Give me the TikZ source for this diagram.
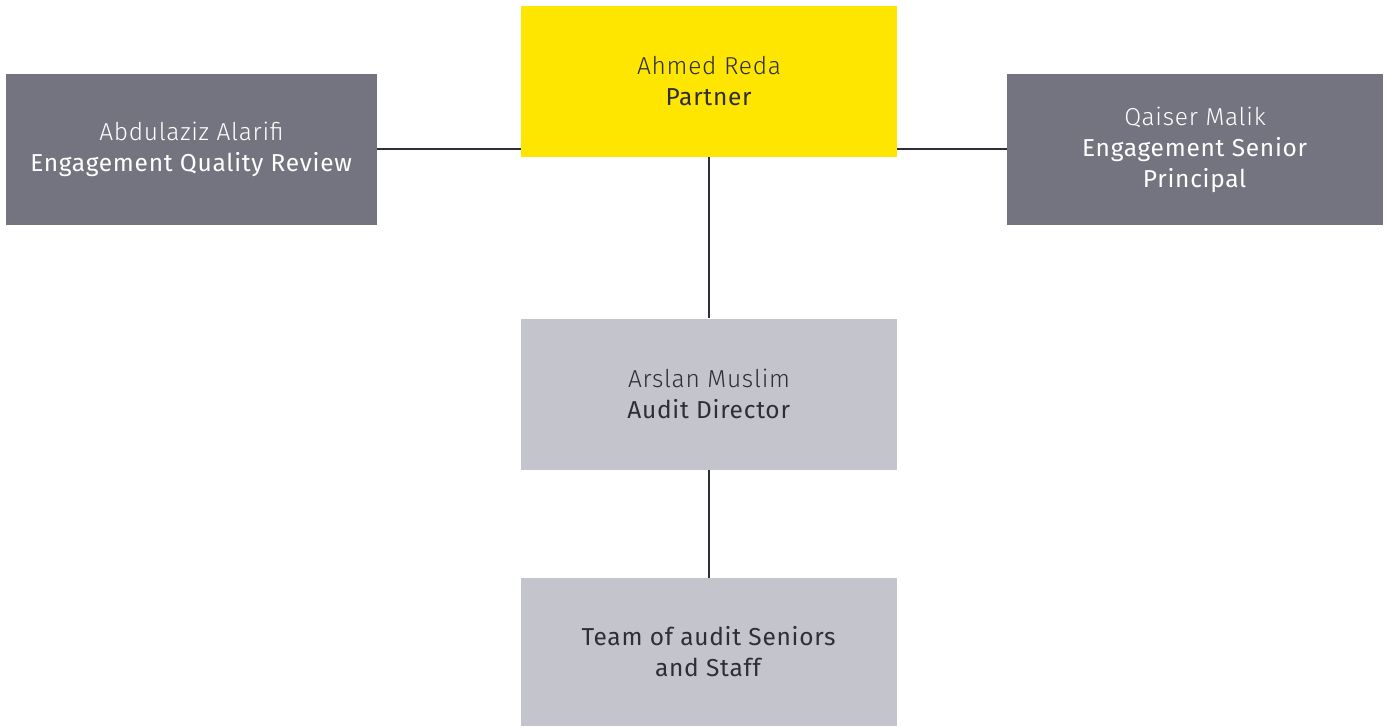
\documentclass[tikz,border=0pt]{standalone}
\usepackage{fontspec}
\setmainfont{Fira Sans Light}[BoldFont={Fira Sans}, LetterSpace=3]
\definecolor{eydark}{HTML}{747480}
\definecolor{eyyellow}{HTML}{FFE600}
\definecolor{eylight}{HTML}{C4C4CD}
\definecolor{eytext}{HTML}{2E2E38}
\begin{document}
\begin{tikzpicture}[x=1pt,y=-1pt,
  box/.style={rectangle, inner sep=0pt, minimum width=376pt, minimum height=151pt, align=center,
    font=\fontsize{24.5}{31}\selectfont},
  darkbox/.style={box, fill=eydark, text=white},
  yellowbox/.style={box, fill=eyyellow, text=eytext},
  lightbox/.style={box, fill=eylight, text=eytext},
  conn/.style={draw=eytext, line width=2.5pt}]
\useasboundingbox (0,0) rectangle (1389,726);
\node[yellowbox] (partner) at (709,81) {Ahmed Reda\\\textbf{Partner}};
\node[darkbox, minimum width=371pt] (eqr) at (191.5,149.5) {Abdulaziz Alarifi\\\textbf{Engagement Quality Review}};
\node[darkbox] (esp) at (1195,149.5) {Qaiser Malik\\\textbf{Engagement Senior}\\\textbf{Principal}};
\node[lightbox] (dir) at (709,394) {Arslan Muslim\\\textbf{Audit Director}};
\node[lightbox, minimum height=148pt] (team) at (709,652) {\textbf{Team of audit Seniors}\\\textbf{and Staff}};
\draw[conn] (eqr.east |- 0,149) -- (partner.west |- 0,149);
\draw[conn] (partner.east |- 0,149) -- (esp.west |- 0,149);
\draw[conn] (partner) -- (dir);
\draw[conn] (dir) -- (team);
\end{tikzpicture}
\end{document}
